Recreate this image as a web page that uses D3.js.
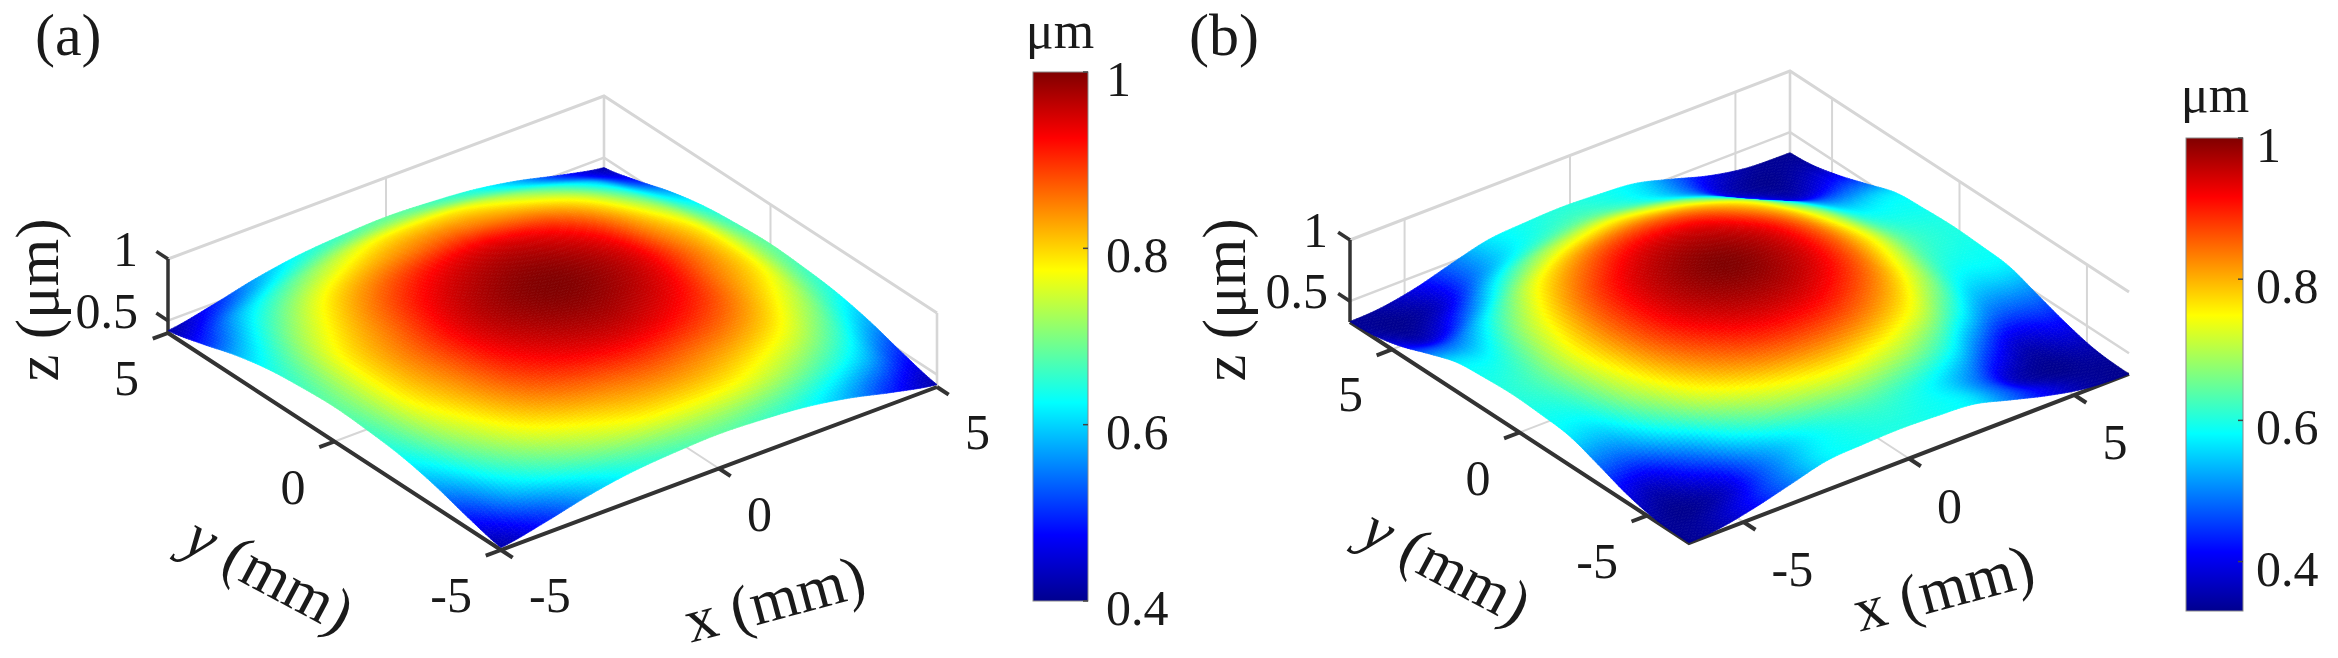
<!DOCTYPE html>
<html><head><meta charset="utf-8">
<style>html,body{margin:0;padding:0;background:#fff}svg{display:block}text{font-family:"Liberation Serif",serif;fill:#1a1a1a}</style>
<script src="https://cdnjs.cloudflare.com/ajax/libs/d3/7.8.5/d3.min.js"></script>
</head><body><div id="c"></div>
<script>
// ---- data ----
const gridA = [-5,-4,-3,-2,-1,0,1,2,3,4,5];
const surfaceA = [
[.42,.49,.575,.635,.665,.68,.665,.635,.575,.49,.42],
[.49,.60,.68,.74,.78,.79,.78,.74,.68,.60,.49],
[.575,.68,.77,.825,.855,.87,.855,.825,.77,.68,.575],
[.635,.74,.825,.89,.93,.945,.93,.89,.825,.74,.635],
[.665,.78,.855,.93,.97,.985,.97,.93,.855,.78,.665],
[.68,.79,.87,.945,.985,1.0,.985,.945,.87,.79,.68],
[.665,.78,.855,.93,.97,.985,.97,.93,.855,.78,.665],
[.635,.74,.825,.89,.93,.945,.93,.89,.825,.74,.635],
[.575,.68,.77,.825,.855,.87,.855,.825,.77,.68,.575],
[.49,.60,.68,.74,.78,.79,.78,.74,.68,.60,.49],
[.42,.49,.575,.635,.665,.68,.665,.635,.575,.49,.42]];
const gridB = [-6.65,-5.54,-4.43,-3.33,-2.22,-1.11,0,1.11,2.22,3.33,4.43,5.54,6.65];
const surfaceB = [
[.33,.35,.41,.49,.57,.59,.60,.59,.57,.49,.41,.35,.33],
[.35,.33,.37,.49,.57,.615,.635,.615,.57,.49,.37,.33,.35],
[.41,.37,.47,.60,.685,.73,.75,.73,.685,.60,.47,.37,.41],
[.49,.49,.60,.72,.795,.84,.855,.84,.795,.72,.60,.49,.49],
[.57,.57,.685,.795,.87,.92,.935,.92,.87,.795,.685,.57,.57],
[.59,.615,.73,.84,.92,.965,.98,.965,.92,.84,.73,.615,.59],
[.60,.635,.75,.855,.935,.98,1.0,.98,.935,.855,.75,.635,.60],
[.59,.615,.73,.84,.92,.965,.98,.965,.92,.84,.73,.615,.59],
[.57,.57,.685,.795,.87,.92,.935,.92,.87,.795,.685,.57,.57],
[.49,.49,.60,.72,.795,.84,.855,.84,.795,.72,.60,.49,.49],
[.41,.37,.47,.60,.685,.73,.75,.73,.685,.60,.47,.37,.41],
[.35,.33,.37,.49,.57,.615,.635,.615,.57,.49,.37,.33,.35],
[.33,.35,.41,.49,.57,.59,.60,.59,.57,.49,.41,.35,.33]];
const xyTicks = [-5,0,5];
const zTicks = [0.5,1];
const zTickLabels = ["0.5","1"];
const barTicksA = [0.4,0.6,0.8,1];
const barTicksB = [0.4,0.6,0.8,1];
const jetStops = [0,.125,.375,.625,.875,1];
const jetColors = ["#00008f","#0000ff","#00ffff","#ffff00","#ff0000","#800000"];

// ---- layout ----
const W=2338,H=658;
const panels=[
 {letter:"(a)",letterPos:[35,55],grid:gridA,surface:surfaceA,lim:[-5,5],zLim:[0.4,1],shift:[0,0],rightEdge:true,
  bottom:[501,550],right:[937,387],left:[168,333],zH:74,
  bar:{x:1033,w:55,top:72,bot:601,dom:[0.4,1],ticks:barTicksA,unit:[1060,48],lab:1106},
  zLab:[58,300],zOff:[-30,7],xLab:[780,619,-15],yLab:[260,592,28],
  yOff:[-29,62],xOff:[28,62]},
 {letter:"(b)",letterPos:[1189,55],grid:gridB,surface:surfaceB,lim:[-6.65,6.65],zLim:[0.33,1],shift:[-.26,.26],rightEdge:false,
  bottom:[1689,543],right:[2129,374],left:[1350,322],zH:82,
  bar:{x:2186,w:57,top:138,bot:611,dom:[0.33,1],ticks:barTicksB,unit:[2215,112],lab:2256},
  zLab:[1245,300],zOff:[-22,7],xLab:[1949,608,-15],yLab:[1437,584,28],
  yOff:[-29,62],xOff:[28,64]}
];

const jet=d3.scaleLinear().domain(jetStops).range(jetColors).clamp(true);
const svg=d3.select("#c").append("svg").attr("width",W).attr("height",H).attr("viewBox",[0,0,W,H]);

function cr(p0,p1,p2,p3,t){return .5*((2*p1)+(-p0+p2)*t+(2*p0-5*p1+4*p2-p3)*t*t+(-p0+3*p1-3*p2+p3)*t*t*t);}
function sampler(grid,m){
  const n=grid.length, idx=d3.scaleLinear().domain(grid).range(d3.range(n)).clamp(true);
  const g=(i,j)=>m[Math.max(0,Math.min(n-1,i))][Math.max(0,Math.min(n-1,j))];
  return (x,y)=>{
    const fy=idx(y),fx=idx(x);
    const i=Math.min(n-2,Math.floor(fy)),j=Math.min(n-2,Math.floor(fx)),ty=fy-i,tx=fx-j;
    const r=[-1,0,1,2].map(k=>cr(g(i+k,j-1),g(i+k,j),g(i+k,j+1),g(i+k,j+2),tx));
    return cr(r[0],r[1],r[2],r[3],ty);
  };
}

panels.forEach(p=>{
  const g=svg.append("g");
  const [a,b]=p.lim;
  const xX=d3.scaleLinear().domain([a,b]).range([0,p.right[0]-p.bottom[0]]);
  const xY=d3.scaleLinear().domain([a,b]).range([0,p.right[1]-p.bottom[1]]);
  const yX=d3.scaleLinear().domain([a,b]).range([0,p.left[0]-p.bottom[0]]);
  const yY=d3.scaleLinear().domain([a,b]).range([0,p.left[1]-p.bottom[1]]);
  const zY=d3.scaleLinear().domain(p.zLim).range([0,-p.zH]);
  const P=(x,y,z)=>[p.bottom[0]+xX(x)+yX(y),p.bottom[1]+xY(x)+yY(y)+zY(z)];
  const seg=(par,pts,col,w)=>par.append("path").attr("d",d3.line()(pts)).attr("fill","none").attr("stroke",col).attr("stroke-width",w);
  const zMin=p.zLim[0],zMax=p.zLim[1],gray="#d6d6d6",dark="#333";

  // back walls and floor grid
  const back=g.append("g");
  seg(back,[P(a,b,zMax),P(b,b,zMax),P(b,a,zMax)],gray,3);
  seg(back,[P(a,b,0.5),P(b,b,0.5),P(b,a,0.5)],gray,2.5);
  seg(back,[P(b,b,zMin),P(b,b,zMax)],gray,2.6);
  if(p.rightEdge) seg(back,[P(b,a,zMin),P(b,a,zMax)],gray,2.6);
  seg(back,[P(a,b,zMin),P(b,b,zMin),P(b,a,zMin)],gray,2);
  xyTicks.forEach(t=>{
    seg(back,[P(t,a,zMin),P(t,b,zMin),P(t,b,zMax)],gray,2);
    seg(back,[P(a,t,zMin),P(b,t,zMin),P(b,t,zMax)],gray,2);
  });

  // dark axes
  const ax=g.append("g");
  seg(ax,[P(a,b,zMin),P(a,a,zMin),P(b,a,zMin)],dark,4);
  seg(ax,[P(a,b,zMin),P(a,b,zMax)],dark,3.5);
  const tl=(b-a)*0.035;
  xyTicks.forEach(t=>{
    seg(ax,[P(t,a,zMin),P(t,a-tl,zMin)],dark,4);
    seg(ax,[P(a,t,zMin),P(a-tl,t,zMin)],dark,4);
  });
  zTicks.forEach(t=>seg(ax,[P(a,b,t),P(a,b+tl,t)],dark,3.5));

  // surface, painted back to front
  const f0=sampler(p.grid,p.surface), f=(x,y)=>f0(x-p.shift[0],y-p.shift[1]);
  const N=130, s=d3.scaleLinear().domain([0,N]).range([b,a]);
  const quads=[];
  for(let k=0;k<2*N;k++)for(let i=Math.max(0,k-N+1);i<=Math.min(k,N-1);i++){quads.push([i,k-i]);}
  const col=([i,j])=>jet((f(s(i+.5),s(j+.5))-p.bar.dom[0])/(p.bar.dom[1]-p.bar.dom[0]));
  const surf=g.append("g");
  surf.selectAll("path").data(quads).join("path")
    .attr("d",([i,j])=>{
      const c=[[i,j],[i+1,j],[i+1,j+1],[i,j+1]].map(([u,v])=>{const x=s(u),y=s(v);return P(x,y,Math.max(zMin,f(x,y)));});
      return d3.line()(c)+"Z";})
    .attr("fill",col).attr("stroke",col).attr("stroke-width",.7);

  // tick labels
  const lab=g.append("g").style("font-size","50px");
  xyTicks.forEach(t=>{
    const q=P(a,t,zMin);
    lab.append("text").attr("x",q[0]+p.yOff[0]).attr("y",q[1]+p.yOff[1]).attr("text-anchor","end").text(t);
    const r=P(t,a,zMin);
    lab.append("text").attr("x",r[0]+p.xOff[0]).attr("y",r[1]+p.xOff[1]).text(t);
  });
  zTicks.forEach((t,i)=>{
    const q=P(a,b,t);
    lab.append("text").attr("x",q[0]+p.zOff[0]).attr("y",q[1]+p.zOff[1]).attr("text-anchor","end").text(zTickLabels[i]);
  });

  // axis titles
  g.append("text").attr("transform",`translate(${p.zLab[0]},${p.zLab[1]}) rotate(-90)`).attr("text-anchor","middle")
    .style("font-size","61px").text("z (μm)");
  g.append("text").attr("transform",`translate(${p.xLab[0]},${p.xLab[1]}) rotate(${p.xLab[2]})`).attr("text-anchor","middle")
    .style("font-size","62px").text("x (mm)");
  const yt=g.append("text").attr("transform",`translate(${p.yLab[0]},${p.yLab[1]}) rotate(${p.yLab[2]})`).attr("text-anchor","middle").style("font-size","62px");
  yt.append("tspan").style("font-style","italic").text("y");
  yt.append("tspan").text(" (mm)");
  g.append("text").attr("x",p.letterPos[0]).attr("y",p.letterPos[1]).style("font-size","60px").text(p.letter);

  // colorbar
  const B=p.bar, by=d3.scaleLinear().domain(B.dom).range([B.bot,B.top]);
  const gid="jet"+p.letter[1];
  const grad=svg.append("defs").append("linearGradient").attr("id",gid).attr("x1",0).attr("x2",0).attr("y1",1).attr("y2",0);
  grad.selectAll("stop").data(jetStops).join("stop").attr("offset",d=>d).attr("stop-color",d=>jet(d));
  g.append("rect").attr("x",B.x).attr("y",B.top).attr("width",B.w).attr("height",B.bot-B.top).attr("fill",`url(#${gid})`).attr("stroke","#8a8a8a").attr("stroke-width",1);
  const tickAxis=g.append("g");
  B.ticks.forEach(t=>{
    seg(tickAxis,[[B.x+B.w-5,by(t)],[B.x+B.w,by(t)]],"#444",1.5);
    tickAxis.append("text").attr("x",B.lab).attr("y",by(t)+24).style("font-size","50px").text(t);
  });
  g.append("text").attr("x",B.unit[0]).attr("y",B.unit[1]).attr("text-anchor","middle").style("font-size","52px").text("μm");
});
</script></body></html>
